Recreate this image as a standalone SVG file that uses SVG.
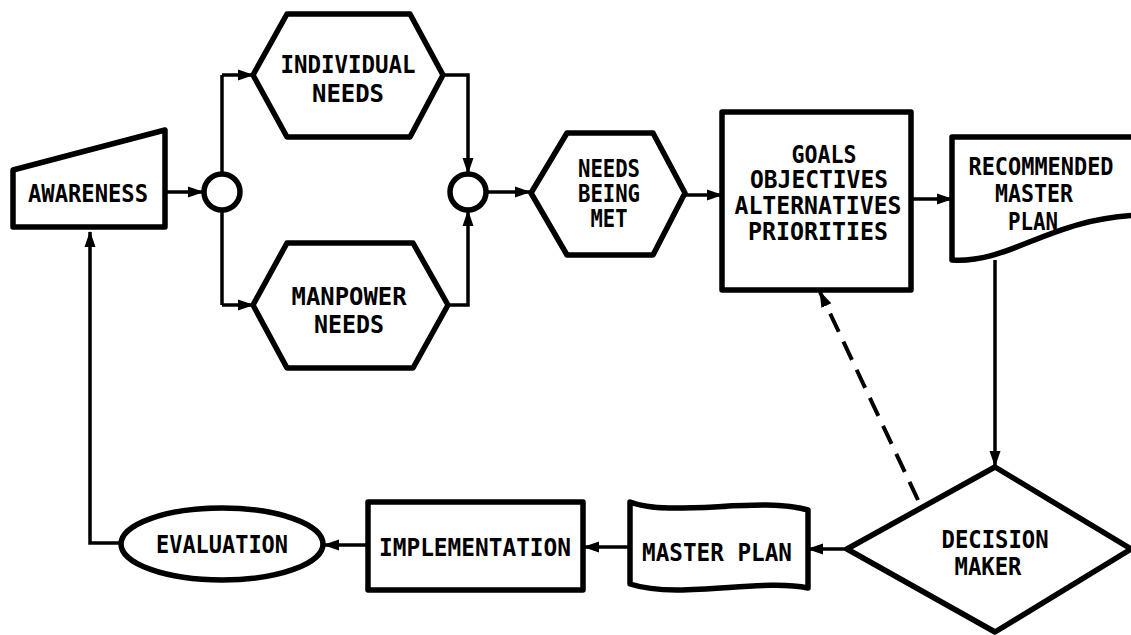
<svg xmlns="http://www.w3.org/2000/svg" width="1131" height="635" viewBox="0 0 1131 635">
<defs>
<marker id="ah" markerUnits="userSpaceOnUse" markerWidth="16" markerHeight="12" refX="15" refY="6" orient="auto"><path d="M0,0.5 L16,6 L0,11.5 Z" fill="#000"/></marker>
<style>
.n{fill:#fff;stroke:#000;stroke-width:5.5;stroke-linejoin:round}
.c{fill:none;stroke:#000;stroke-width:3.5}
.a{marker-end:url(#ah)}
.d{stroke-dasharray:20 11;stroke-width:4}
text{font-family:"DejaVu Sans Mono","Liberation Mono",monospace;font-weight:bold;font-size:24px;text-anchor:middle;fill:#000}
</style>
</defs>
<rect width="1131" height="635" fill="#fff"/>
<g id="connectors">
<path class="c a" d="M165,192 L203,192"/>
<path class="c" d="M222,173 L222,75"/>
<path class="c a" d="M222,75 L253,75"/>
<path class="c" d="M222,211 L222,305"/>
<path class="c a" d="M222,305 L253,305"/>
<path class="c a" d="M443,75 L468,75 L468,173"/>
<path class="c a" d="M448,305 L468,305 L468,211"/>
<path class="c a" d="M487,192 L530,192"/>
<path class="c a" d="M685,195 L722,195"/>
<path class="c a" d="M911,199 L952,199"/>
<path class="c a" d="M995,260 L995,466"/>
<path class="c d a" d="M918,500 L820,292"/>
<path class="c a" d="M847,549 L808,549"/>
<path class="c a" d="M630,547 L584,547"/>
<path class="c a" d="M367,545 L324,545"/>
<path class="c a" d="M121,543 L90,543 L90,232"/>
</g>
<g id="awareness"><path class="n" d="M13,170 L165,130 L165,227 L13,227 Z"/><text x="88" y="202" textLength="120" lengthAdjust="spacingAndGlyphs">AWARENESS</text></g>
<g id="junction1"><circle class="n" cx="222" cy="192" r="18" stroke-width="4.5"/></g>
<g id="individual-needs"><path class="n" d="M253,75 L287,14 L410,14 L443,75 L410,137 L287,137 Z"/><text x="348" y="73" textLength="135" lengthAdjust="spacingAndGlyphs">INDIVIDUAL</text><text x="348" y="102" textLength="72" lengthAdjust="spacingAndGlyphs">NEEDS</text></g>
<g id="manpower-needs"><path class="n" d="M253,305 L287,243 L413,243 L448,305 L413,368 L287,368 Z"/><text x="349" y="305" textLength="115" lengthAdjust="spacingAndGlyphs">MANPOWER</text><text x="349" y="333" textLength="70" lengthAdjust="spacingAndGlyphs">NEEDS</text></g>
<g id="junction2"><circle class="n" cx="468" cy="192" r="18" stroke-width="4.5"/></g>
<g id="needs-being-met"><path class="n" d="M531,193 L567,133 L653,133 L685,193 L653,255 L567,255 Z"/><text x="609" y="177" textLength="62" lengthAdjust="spacingAndGlyphs">NEEDS</text><text x="609" y="202" textLength="62" lengthAdjust="spacingAndGlyphs">BEING</text><text x="609" y="227" textLength="37" lengthAdjust="spacingAndGlyphs">MET</text></g>
<g id="goals"><rect class="n" x="722" y="112" width="189" height="178"/><text x="824" y="163" textLength="65" lengthAdjust="spacingAndGlyphs">GOALS</text><text x="819" y="188" textLength="138" lengthAdjust="spacingAndGlyphs">OBJECTIVES</text><text x="818" y="214" textLength="167" lengthAdjust="spacingAndGlyphs">ALTERNATIVES</text><text x="818" y="240" textLength="140" lengthAdjust="spacingAndGlyphs">PRIORITIES</text></g>
<g id="recommended-master-plan"><path class="n" d="M1140,137 L952,137 L952,260 C1010,264 1050,218 1140,215"/><text x="1041" y="175" textLength="145" lengthAdjust="spacingAndGlyphs">RECOMMENDED</text><text x="1034" y="202" textLength="78" lengthAdjust="spacingAndGlyphs">MASTER</text><text x="1033" y="230" textLength="50" lengthAdjust="spacingAndGlyphs">PLAN</text></g>
<g id="decision-maker"><path class="n" d="M995,467 L1131,549 L995,632 L847,549 Z"/><text x="995" y="548" textLength="107" lengthAdjust="spacingAndGlyphs">DECISION</text><text x="988" y="575" textLength="67" lengthAdjust="spacingAndGlyphs">MAKER</text></g>
<g id="master-plan"><path class="n" d="M630,502 C670,518 760,496 808,510 L808,588 C760,578 680,600 630,584 Z"/><text x="717" y="561" textLength="150" lengthAdjust="spacingAndGlyphs">MASTER PLAN</text></g>
<g id="implementation"><rect class="n" x="368" y="502" width="215" height="88"/><text x="475" y="556" textLength="192" lengthAdjust="spacingAndGlyphs">IMPLEMENTATION</text></g>
<g id="evaluation"><ellipse class="n" cx="222" cy="544" rx="101" ry="36"/><text x="222" y="553" textLength="132" lengthAdjust="spacingAndGlyphs">EVALUATION</text></g>
</svg>
